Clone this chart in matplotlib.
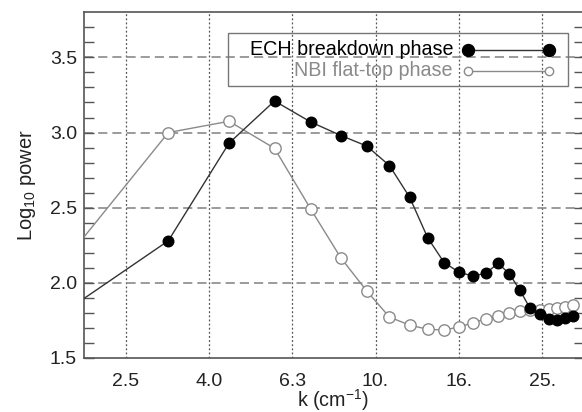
import numpy as np
import matplotlib
matplotlib.use("Agg")
import matplotlib.pyplot as plt
from matplotlib.patches import Rectangle
from matplotlib.lines import Line2D

plt.rcParams['font.family'] = ['Liberation Sans', 'DejaVu Sans']
plt.rcParams['mathtext.fontset'] = 'custom'
plt.rcParams['mathtext.rm'] = 'Liberation Sans'
plt.rcParams['mathtext.it'] = 'Liberation Sans:italic'

# wavenumber k (cm^-1)
k_vals = [1.91, 3.18, 4.45, 5.72, 6.99, 8.26, 9.53, 10.8, 12.07, 13.34, 14.61, 15.88,
          17.15, 18.42, 19.69, 20.96, 22.23, 23.5, 24.77, 26.04, 27.31, 28.58, 29.85]
ech_power = [1.86, 2.28, 2.93, 3.21, 3.07, 2.98, 2.91, 2.78, 2.57, 2.30, 2.135, 2.07,
             2.045, 2.065, 2.13, 2.06, 1.95, 1.83, 1.79, 1.76, 1.755, 1.765, 1.78]
nbi_power = [2.24, 3.00, 3.075, 2.895, 2.49, 2.165, 1.945, 1.772, 1.719, 1.691, 1.686, 1.707,
             1.734, 1.762, 1.781, 1.798, 1.81, 1.82, 1.82, 1.823, 1.83, 1.838, 1.85]
xtick_vals = [10**0.4, 10**0.6, 10**0.8, 10**1.0, 10**1.2, 10**1.4]
xtick_labels = ['2.5', '4.0', '6.3', '10.', '16.', '25.']
ytick_vals = [1.5, 2.0, 2.5, 3.0, 3.5]
ytick_labels = ['1.5', '2.0', '2.5', '3.0', '3.5']
series_labels = ['ECH breakdown phase', 'NBI flat-top phase']

W, H = 582, 412
fig = plt.figure(figsize=(W/100, H/100), dpi=100)
L, R, T, B = 84, 583.8, 12.3, 358
ax = fig.add_axes([L/W, 1 - B/H, (R-L)/W, (B-T)/H])

ax.set_xscale('log')
ax.set_xlim(10**0.3, 10**1.5)
ax.set_ylim(1.5, 3.8)

# grid
for xv in xtick_vals:
    ax.axvline(xv, color='#555555', lw=0.9, ls=(0, (1.5, 1.8)), zorder=1)
for yv in ytick_vals[1:]:
    ax.axhline(yv, color='#8a8a8a', lw=1.2, ls=(0, (5.5, 3)), zorder=1)

ax.plot(k_vals, nbi_power, color='#8a8a8a', lw=1.0, marker='o', ms=8.2,
        mfc='white', mec='#8a8a8a', mew=1.0, zorder=3, clip_on=True)
ax.plot(k_vals, ech_power, color='#333333', lw=1.0, marker='o', ms=7.6,
        mfc='black', mec='black', zorder=4, clip_on=True)

ax.set_xticks(xtick_vals)
ax.set_xticklabels(xtick_labels)
ax.xaxis.set_minor_locator(matplotlib.ticker.NullLocator())
ax.set_yticks(ytick_vals)
ax.set_yticklabels(ytick_labels)
ax.set_yticks(np.arange(1.6, 3.8, 0.1), minor=True)
ax.tick_params(axis='x', length=0, pad=10.5, labelsize=14, labelcolor='#222222')
ax.tick_params(axis='y', which='both', direction='in', left=True, right=True,
               length=7, width=1.0, color='#555555', pad=5, labelsize=14,
               labelcolor='#222222')

for s in ax.spines.values():
    s.set_color('#555555')
    s.set_linewidth(1.2)

# legend (manual, transparent box)
def axfrac(px, py):
    return ((px - L) / (R - L), (B - py) / (B - T))

x0, y0 = axfrac(228, 86)
x1, y1 = axfrac(568, 33)
ax.add_patch(Rectangle((x0, y0), x1 - x0, y1 - y0, transform=ax.transAxes,
                       fill=False, ec='#777777', lw=1.0, zorder=5))
tx, ty1 = axfrac(453, 49.5)
_, ty2 = axfrac(453, 70.5)
ax.text(tx, ty1, series_labels[0], transform=ax.transAxes, ha='right', va='center',
        fontsize=14.2, color='black', zorder=6)
ax.text(tx, ty2, series_labels[1], transform=ax.transAxes, ha='right', va='center',
        fontsize=14.2, color='#8a8a8a', zorder=6)
lx0, _ = axfrac(468, 0)
lx1, _ = axfrac(549, 0)
ax.add_line(Line2D([lx0, lx1], [ty1, ty1], transform=ax.transAxes, color='#333333',
                   lw=1.0, marker='o', ms=8.6, mfc='black', mec='black', zorder=6))
ax.add_line(Line2D([lx0, lx1], [ty2, ty2], transform=ax.transAxes, color='#8a8a8a',
                   lw=1.0, marker='o', ms=6.0, mfc='white', mec='#8a8a8a', zorder=6))

fig.text(27/W, 1 - 185/H, r'Log$_{10}$ power', rotation=90, ha='center', va='center',
         fontsize=14.5, color='#222222')
fig.text(333/W, 1 - 400/H, r'k (cm$^{-1}$)', ha='center', va='center',
         fontsize=14.2, color='#222222')

fig.savefig('out.png', dpi=100)
